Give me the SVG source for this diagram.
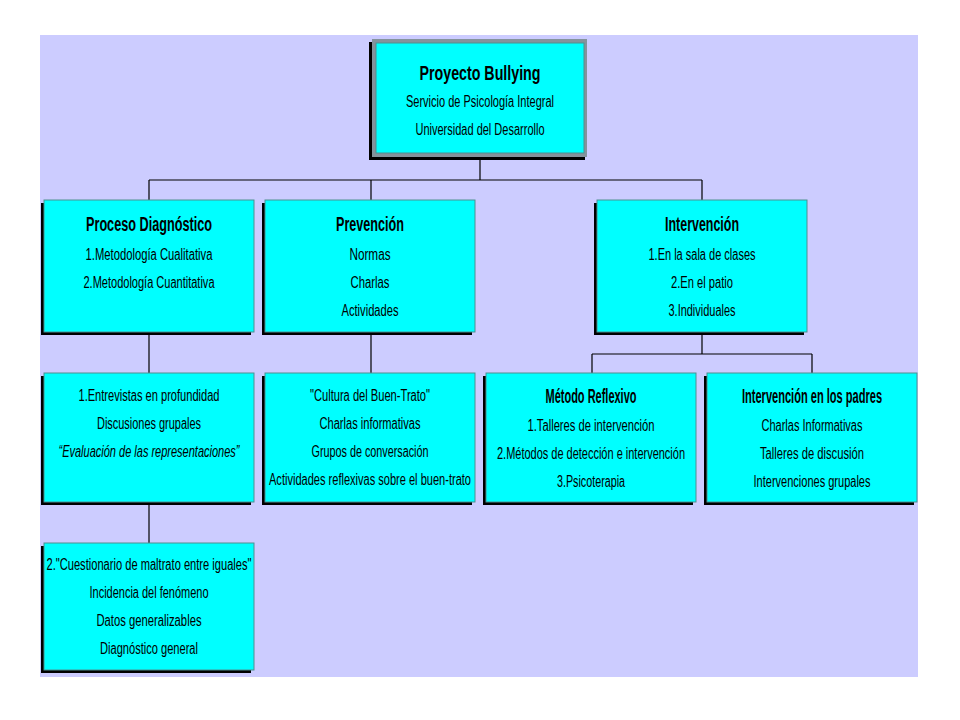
<svg xmlns="http://www.w3.org/2000/svg" width="960" height="720" viewBox="0 0 960 720">
<style>
.bg{fill:#CCCCFF}
.sh{fill:#000000}
.bx{fill:#00FFFF;stroke:#4F8F8F;stroke-width:1}
.frame{fill:#84939C}
.ln{stroke:#000000;stroke-width:1.2;fill:none}
text{font-family:"Liberation Sans",Arial,sans-serif;text-anchor:middle;fill:#000000}
.t{font-size:20px;font-weight:bold}
.r{font-size:16px}
.i{font-size:16px;font-style:italic}
</style>
<rect x="0" y="0" width="960" height="720" fill="#FFFFFF"/>
<rect class="bg" x="40" y="35" width="878" height="642"/>

<g id="connectors">
<path class="ln" d="M480 158V180M149 180H702M149 180V200M371 180V200M702 180V200"/>
<path class="ln" d="M149 332V373M371 332V373M702 332V354M592 354H812M592 354V373M812 354V373"/>
<path class="ln" d="M149 502V543"/>
</g>

<g id="root">
<rect class="sh" x="369" y="42" width="216" height="118"/>
<rect class="frame" x="372" y="39" width="215" height="118"/>
<rect class="bx" x="376" y="43" width="208" height="110"/>
<text class="t" x="480" y="80" font-size="21" textLength="121" lengthAdjust="spacingAndGlyphs">Proyecto Bullying</text>
<text class="r" x="480" y="107" textLength="148" lengthAdjust="spacingAndGlyphs">Servicio de Psicología Integral</text>
<text class="r" x="480" y="135" textLength="129" lengthAdjust="spacingAndGlyphs">Universidad del Desarrollo</text>
</g>

<g id="diagnostico">
<rect class="sh" x="41" y="203" width="210" height="132"/>
<rect class="bx" x="44" y="200" width="210" height="132"/>
<text class="t" x="149" y="231" textLength="126" lengthAdjust="spacingAndGlyphs">Proceso Diagnóstico</text>
<text class="r" x="149" y="260" textLength="127" lengthAdjust="spacingAndGlyphs">1.Metodología Cualitativa</text>
<text class="r" x="149" y="288" textLength="131" lengthAdjust="spacingAndGlyphs">2.Metodología Cuantitativa</text>
</g>

<g id="prevencion">
<rect class="sh" x="262" y="203" width="210" height="132"/>
<rect class="bx" x="265" y="200" width="210" height="132"/>
<text class="t" x="370" y="231" textLength="68" lengthAdjust="spacingAndGlyphs">Prevención</text>
<text class="r" x="370" y="260" textLength="41" lengthAdjust="spacingAndGlyphs">Normas</text>
<text class="r" x="370" y="288" textLength="39" lengthAdjust="spacingAndGlyphs">Charlas</text>
<text class="r" x="370" y="316" textLength="57" lengthAdjust="spacingAndGlyphs">Actividades</text>
</g>

<g id="intervencion">
<rect class="sh" x="594" y="203" width="210" height="132"/>
<rect class="bx" x="597" y="200" width="210" height="132"/>
<text class="t" x="702" y="231" textLength="74" lengthAdjust="spacingAndGlyphs">Intervención</text>
<text class="r" x="702" y="260" textLength="107" lengthAdjust="spacingAndGlyphs">1.En la sala de clases</text>
<text class="r" x="702" y="288" textLength="62" lengthAdjust="spacingAndGlyphs">2.En el patio</text>
<text class="r" x="702" y="316" textLength="67" lengthAdjust="spacingAndGlyphs">3.Individuales</text>
</g>

<g id="entrevistas">
<rect class="sh" x="41" y="376" width="210" height="129"/>
<rect class="bx" x="44" y="373" width="210" height="129"/>
<text class="r" x="149" y="401" textLength="141" lengthAdjust="spacingAndGlyphs">1.Entrevistas en profundidad</text>
<text class="r" x="149" y="429" textLength="104" lengthAdjust="spacingAndGlyphs">Discusiones grupales</text>
<text class="i" x="149" y="457" textLength="181" lengthAdjust="spacingAndGlyphs">“Evaluación de las representaciones”</text>
</g>

<g id="cultura">
<rect class="sh" x="262" y="376" width="210" height="129"/>
<rect class="bx" x="265" y="373" width="210" height="129"/>
<text class="r" x="370" y="401" textLength="120" lengthAdjust="spacingAndGlyphs">"Cultura del Buen-Trato"</text>
<text class="r" x="370" y="429" textLength="101" lengthAdjust="spacingAndGlyphs">Charlas informativas</text>
<text class="r" x="370" y="457" textLength="117" lengthAdjust="spacingAndGlyphs">Grupos de conversación</text>
<text class="r" x="370" y="485" textLength="202" lengthAdjust="spacingAndGlyphs">Actividades reflexivas sobre el buen-trato</text>
</g>

<g id="metodo">
<rect class="sh" x="483" y="376" width="210" height="129"/>
<rect class="bx" x="486" y="373" width="210" height="129"/>
<text class="t" x="591" y="403" font-size="17" textLength="91" lengthAdjust="spacingAndGlyphs">Método Reflexivo</text>
<text class="r" x="591" y="431" textLength="127" lengthAdjust="spacingAndGlyphs">1.Talleres de intervención</text>
<text class="r" x="591" y="459" textLength="188" lengthAdjust="spacingAndGlyphs">2.Métodos de detección e intervención</text>
<text class="r" x="591" y="487" textLength="68" lengthAdjust="spacingAndGlyphs">3.Psicoterapia</text>
</g>

<g id="padres">
<rect class="sh" x="704" y="376" width="210" height="129"/>
<rect class="bx" x="707" y="373" width="210" height="129"/>
<text class="t" font-size="17" transform="translate(812 403) scale(0.64 1)" x="0" y="0" textLength="219" lengthAdjust="spacingAndGlyphs">Intervención en los padres</text>
<text class="r" x="812" y="431" textLength="101" lengthAdjust="spacingAndGlyphs">Charlas Informativas</text>
<text class="r" x="812" y="459" textLength="104" lengthAdjust="spacingAndGlyphs">Talleres de discusión</text>
<text class="r" x="812" y="487" textLength="117" lengthAdjust="spacingAndGlyphs">Intervenciones grupales</text>
</g>

<g id="cuestionario">
<rect class="sh" x="41" y="546" width="210" height="127"/>
<rect class="bx" x="44" y="543" width="210" height="127"/>
<text class="r" x="149" y="570" textLength="205" lengthAdjust="spacingAndGlyphs">2."Cuestionario de maltrato entre iguales"</text>
<text class="r" x="149" y="598" textLength="119" lengthAdjust="spacingAndGlyphs">Incidencia del fenómeno</text>
<text class="r" x="149" y="626" textLength="105" lengthAdjust="spacingAndGlyphs">Datos generalizables</text>
<text class="r" x="149" y="654" textLength="98" lengthAdjust="spacingAndGlyphs">Diagnóstico general</text>
</g>
</svg>
